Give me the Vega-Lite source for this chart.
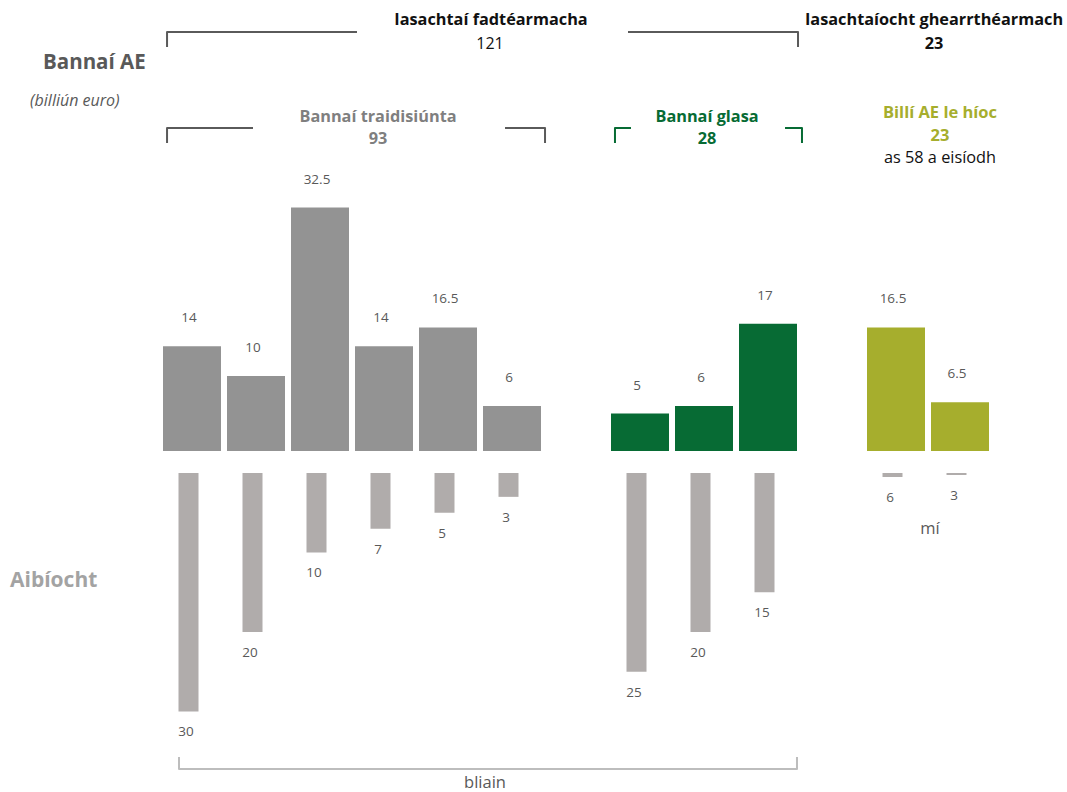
{
  "$schema": "https://vega.github.io/schema/vega-lite/v6.json",
  "description": "Bannaí AE: iasachtaí fadtéarmacha agus gearrthéarmacha (billiún euro) agus a n-aibíocht",
  "width": 1067,
  "height": 792,
  "autosize": "none",
  "padding": 0,
  "background": "white",
  "config": {"view": {"stroke": null}, "text": {"font": "Open Sans"}},
  "datasets": {
    "bannai": [
      {"slot": 0, "cineal": "Bannaí traidisiúnta", "luach": 14, "aibiocht": 30, "lipead": "30"},
      {"slot": 1, "cineal": "Bannaí traidisiúnta", "luach": 10, "aibiocht": 20, "lipead": "20"},
      {"slot": 2, "cineal": "Bannaí traidisiúnta", "luach": 32.5, "aibiocht": 10, "lipead": "10"},
      {"slot": 3, "cineal": "Bannaí traidisiúnta", "luach": 14, "aibiocht": 7, "lipead": "7"},
      {"slot": 4, "cineal": "Bannaí traidisiúnta", "luach": 16.5, "aibiocht": 5, "lipead": "5"},
      {"slot": 5, "cineal": "Bannaí traidisiúnta", "luach": 6, "aibiocht": 3, "lipead": "3"},
      {"slot": 7, "cineal": "Bannaí glasa", "luach": 5, "aibiocht": 25, "lipead": "25"},
      {"slot": 8, "cineal": "Bannaí glasa", "luach": 6, "aibiocht": 20, "lipead": "20"},
      {"slot": 9, "cineal": "Bannaí glasa", "luach": 17, "aibiocht": 15, "lipead": "15"},
      {"slot": 11, "cineal": "Billí AE le híoc", "luach": 16.5, "aibiocht": 0.5, "lipead": "6"},
      {"slot": 12, "cineal": "Billí AE le híoc", "luach": 6.5, "aibiocht": 0.25, "lipead": "3"}
    ],
    "luibini": [
      {"luibin": "fad_cle", "grupa": "dorcha", "ord": 0, "slot": -0.39, "y": 53.94},
      {"luibin": "fad_cle", "grupa": "dorcha", "ord": 1, "slot": -0.39, "y": 55.94},
      {"luibin": "fad_cle", "grupa": "dorcha", "ord": 2, "slot": 2.578, "y": 55.94},
      {"luibin": "fad_deas", "grupa": "dorcha", "ord": 0, "slot": 6.8125, "y": 55.94},
      {"luibin": "fad_deas", "grupa": "dorcha", "ord": 1, "slot": 9.469, "y": 55.94},
      {"luibin": "fad_deas", "grupa": "dorcha", "ord": 2, "slot": 9.469, "y": 53.94},
      {"luibin": "trad_cle", "grupa": "dorcha", "ord": 0, "slot": -0.39, "y": 41.12},
      {"luibin": "trad_cle", "grupa": "dorcha", "ord": 1, "slot": -0.39, "y": 43.12},
      {"luibin": "trad_cle", "grupa": "dorcha", "ord": 2, "slot": 0.953, "y": 43.12},
      {"luibin": "trad_deas", "grupa": "dorcha", "ord": 0, "slot": 4.891, "y": 43.12},
      {"luibin": "trad_deas", "grupa": "dorcha", "ord": 1, "slot": 5.516, "y": 43.12},
      {"luibin": "trad_deas", "grupa": "dorcha", "ord": 2, "slot": 5.516, "y": 41.12},
      {"luibin": "glas_cle", "grupa": "glas", "ord": 0, "slot": 6.609, "y": 41.12},
      {"luibin": "glas_cle", "grupa": "glas", "ord": 1, "slot": 6.609, "y": 43.12},
      {"luibin": "glas_cle", "grupa": "glas", "ord": 2, "slot": 6.859, "y": 43.12},
      {"luibin": "glas_deas", "grupa": "glas", "ord": 0, "slot": 9.266, "y": 43.12},
      {"luibin": "glas_deas", "grupa": "glas", "ord": 1, "slot": 9.531, "y": 43.12},
      {"luibin": "glas_deas", "grupa": "glas", "ord": 2, "slot": 9.531, "y": 41.12},
      {"luibin": "bliain", "grupa": "eadrom", "ord": 0, "slot": -0.203, "y": -40.85},
      {"luibin": "bliain", "grupa": "eadrom", "ord": 1, "slot": -0.203, "y": -42.46},
      {"luibin": "bliain", "grupa": "eadrom", "ord": 2, "slot": 9.453, "y": -42.46},
      {"luibin": "bliain", "grupa": "eadrom", "ord": 3, "slot": 9.453, "y": -40.85}
    ],
    "teacs": [
      {"rol": "ceann", "teacs": "Bannaí AE", "slot": -2.328, "y": 51.8},
      {"rol": "aonad", "teacs": "(billiún euro)", "slot": -2.531, "y": 46.73},
      {"rol": "aibiocht", "teacs": "Aibíocht", "slot": -2.844, "y": -17.36},
      {"rol": "iasacht", "teacs": "Iasachtaí fadtéarmacha", "slot": 4.672, "y": 57.54},
      {"rol": "iomlan", "teacs": "121", "slot": 4.656, "y": 54.34},
      {"rol": "iasacht", "teacs": "Iasachtaíocht ghearrthéarmach", "slot": 11.594, "y": 57.54},
      {"rol": "iasacht", "teacs": "23", "slot": 11.594, "y": 54.34},
      {"rol": "trad", "teacs": "Bannaí traidisiúnta", "slot": 2.906, "y": 44.59},
      {"rol": "trad", "teacs": "93", "slot": 2.906, "y": 41.66},
      {"rol": "glas", "teacs": "Bannaí glasa", "slot": 8.047, "y": 44.59},
      {"rol": "glas", "teacs": "28", "slot": 8.047, "y": 41.66},
      {"rol": "billi", "teacs": "Billí AE le híoc", "slot": 11.6875, "y": 45.13},
      {"rol": "billi", "teacs": "23", "slot": 11.6875, "y": 42.06},
      {"rol": "nota", "teacs": "as 58 a eisíodh", "slot": 11.6875, "y": 39.12},
      {"rol": "ais", "teacs": "bliain", "slot": 4.578, "y": -44.33},
      {"rol": "ais", "teacs": "mí", "slot": 11.531, "y": -10.41}
    ]
  },
  "encoding": {
    "x": {"field": "slot", "type": "quantitative", "scale": {"domain": [-3, 13.671875], "nice": false, "zero": false, "padding": 0}, "axis": null}
  },
  "layer": [
    {
      "layer": [
        {
          "data": {"name": "bannai"},
          "mark": {"type": "bar", "orient": "vertical", "width": 58},
          "encoding": {
            "y": {"field": "luach", "type": "quantitative", "stack": null, "scale": {"domain": [-45.527, 60.214], "nice": false, "zero": false}, "axis": null},
            "y2": {"datum": 0},
            "color": {
              "field": "cineal",
              "type": "nominal",
              "scale": {"domain": ["Bannaí traidisiúnta", "Bannaí glasa", "Billí AE le híoc"], "range": ["#939393", "#076b34", "#a6ae2d"]},
              "legend": null
            }
          }
        },
        {
          "data": {"name": "bannai"},
          "mark": {"type": "text", "dy": -28, "xOffset": -3, "fontSize": 13.5, "color": "#595959", "baseline": "middle"},
          "encoding": {
            "y": {"field": "luach", "type": "quantitative"},
            "text": {"field": "luach", "type": "nominal"}
          }
        },
        {
          "data": {"name": "luibini"},
          "transform": [{"filter": "datum.grupa == 'dorcha'"}],
          "mark": {"type": "line", "color": "#5a5a5a", "strokeWidth": 2, "strokeJoin": "round"},
          "encoding": {
            "y": {"field": "y", "type": "quantitative"},
            "detail": {"field": "luibin"},
            "order": {"field": "ord"}
          }
        },
        {
          "data": {"name": "luibini"},
          "transform": [{"filter": "datum.grupa == 'glas'"}],
          "mark": {"type": "line", "color": "#076b34", "strokeWidth": 2, "strokeJoin": "round"},
          "encoding": {
            "y": {"field": "y", "type": "quantitative"},
            "detail": {"field": "luibin"},
            "order": {"field": "ord"}
          }
        },
        {
          "data": {"name": "luibini"},
          "transform": [{"filter": "datum.grupa == 'eadrom'"}],
          "mark": {"type": "line", "color": "#bdbdbd", "strokeWidth": 2, "strokeJoin": "round"},
          "encoding": {
            "y": {"field": "y", "type": "quantitative"},
            "detail": {"field": "luibin"},
            "order": {"field": "ord"}
          }
        },
        {
          "data": {"name": "teacs"},
          "transform": [{"filter": "datum.rol == 'ceann'"}],
          "mark": {"type": "text", "align": "left", "baseline": "middle", "fontSize": 20.5, "fontWeight": "bold", "color": "#595959"},
          "encoding": {"y": {"field": "y", "type": "quantitative"}, "text": {"field": "teacs"}}
        },
        {
          "data": {"name": "teacs"},
          "transform": [{"filter": "datum.rol == 'aonad'"}],
          "mark": {"type": "text", "align": "left", "baseline": "middle", "fontSize": 16, "fontStyle": "italic", "color": "#595959"},
          "encoding": {"y": {"field": "y", "type": "quantitative"}, "text": {"field": "teacs"}}
        },
        {
          "data": {"name": "teacs"},
          "transform": [{"filter": "datum.rol == 'aibiocht'"}],
          "mark": {"type": "text", "align": "left", "baseline": "middle", "fontSize": 21, "fontWeight": "bold", "color": "#a3a3a3"},
          "encoding": {"y": {"field": "y", "type": "quantitative"}, "text": {"field": "teacs"}}
        },
        {
          "data": {"name": "teacs"},
          "transform": [{"filter": "datum.rol == 'iasacht'"}],
          "mark": {"type": "text", "align": "center", "baseline": "middle", "fontSize": 16.3, "fontWeight": "bold", "color": "#111111"},
          "encoding": {"y": {"field": "y", "type": "quantitative"}, "text": {"field": "teacs"}}
        },
        {
          "data": {"name": "teacs"},
          "transform": [{"filter": "datum.rol == 'iomlan'"}],
          "mark": {"type": "text", "align": "center", "baseline": "middle", "fontSize": 16, "color": "#111111"},
          "encoding": {"y": {"field": "y", "type": "quantitative"}, "text": {"field": "teacs"}}
        },
        {
          "data": {"name": "teacs"},
          "transform": [{"filter": "datum.rol == 'trad'"}],
          "mark": {"type": "text", "align": "center", "baseline": "middle", "fontSize": 16.3, "fontWeight": "bold", "color": "#7f7f7f"},
          "encoding": {"y": {"field": "y", "type": "quantitative"}, "text": {"field": "teacs"}}
        },
        {
          "data": {"name": "teacs"},
          "transform": [{"filter": "datum.rol == 'glas'"}],
          "mark": {"type": "text", "align": "center", "baseline": "middle", "fontSize": 16.3, "fontWeight": "bold", "color": "#076b34"},
          "encoding": {"y": {"field": "y", "type": "quantitative"}, "text": {"field": "teacs"}}
        },
        {
          "data": {"name": "teacs"},
          "transform": [{"filter": "datum.rol == 'billi'"}],
          "mark": {"type": "text", "align": "center", "baseline": "middle", "fontSize": 16.5, "fontWeight": "bold", "color": "#a6ae2d"},
          "encoding": {"y": {"field": "y", "type": "quantitative"}, "text": {"field": "teacs"}}
        },
        {
          "data": {"name": "teacs"},
          "transform": [{"filter": "datum.rol == 'nota'"}],
          "mark": {"type": "text", "align": "center", "baseline": "middle", "fontSize": 16.3, "color": "#111111"},
          "encoding": {"y": {"field": "y", "type": "quantitative"}, "text": {"field": "teacs"}}
        },
        {
          "data": {"name": "teacs"},
          "transform": [{"filter": "datum.rol == 'ais'"}],
          "mark": {"type": "text", "align": "center", "baseline": "middle", "fontSize": 16.5, "color": "#595959"},
          "encoding": {"y": {"field": "y", "type": "quantitative"}, "text": {"field": "teacs"}}
        }
      ]
    },
    {
      "data": {"name": "bannai"},
      "layer": [
        {
          "mark": {"type": "bar", "orient": "vertical", "width": 20, "xOffset": -3.5, "color": "#b0acab"},
          "encoding": {
            "y": {"field": "aibiocht", "type": "quantitative", "stack": null, "scale": {"domain": [-59.497, 40.126], "reverse": true, "nice": false, "zero": false}, "axis": null},
            "y2": {"datum": 0}
          }
        },
        {
          "mark": {"type": "text", "dy": 21, "xOffset": -6, "fontSize": 13.5, "color": "#595959", "baseline": "middle"},
          "encoding": {
            "y": {"field": "aibiocht", "type": "quantitative"},
            "text": {"field": "lipead", "type": "nominal"}
          }
        }
      ]
    }
  ],
  "resolve": {"scale": {"y": "independent"}}
}
